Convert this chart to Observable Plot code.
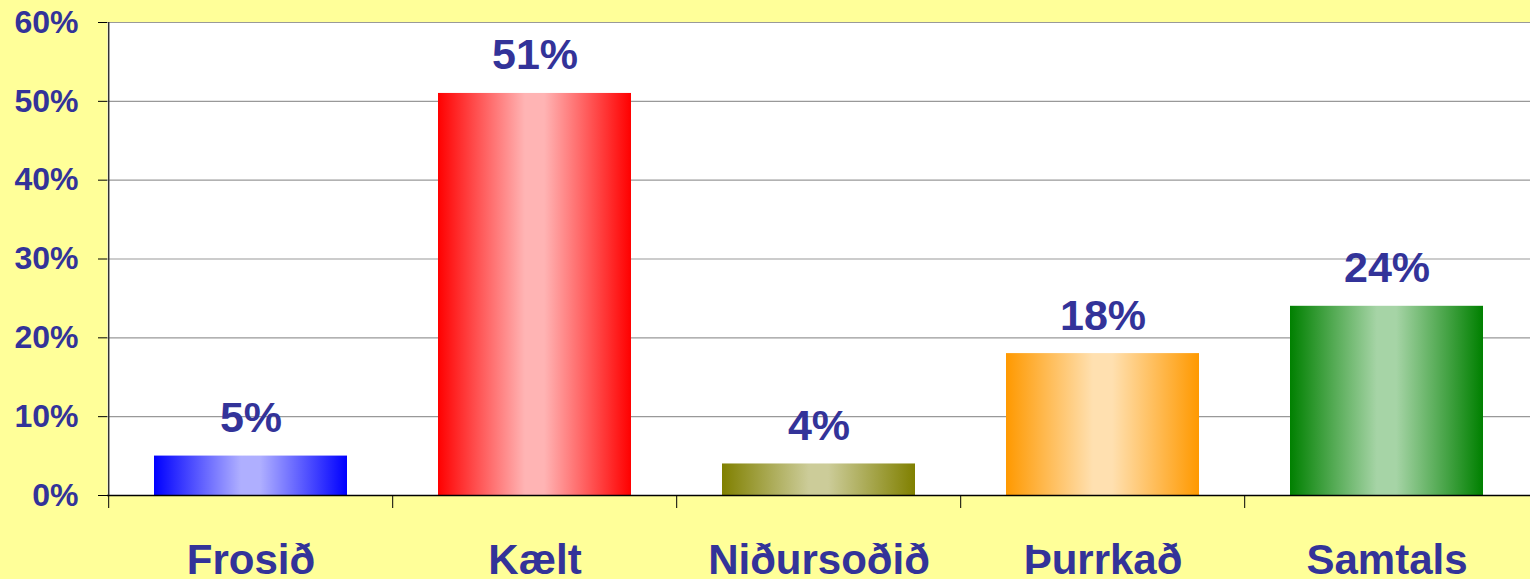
<!DOCTYPE html>
<html>
<head>
<meta charset="utf-8">
<script src="https://cdn.jsdelivr.net/npm/d3@7"></script>
<script src="https://cdn.jsdelivr.net/npm/@observablehq/plot@0.6"></script>
<style>
  html, body { margin: 0; padding: 0; background: #FFFF99; }
  #chart { width: 1530px; height: 579px; }
</style>
</head>
<body>
<div id="chart"></div>
<script>
const categories = ["Frosið", "Kælt", "Niðursoðið", "Þurrkað", "Samtals"];
const values = [5, 51, 4, 18, 24];
const yTicks = [0, 10, 20, 30, 40, 50, 60];
const edgeColors = ["#0000FF", "#FF0000", "#808000", "#FF9900", "#008000"];
const centerColors = ["#AFAFFF", "#FFB4B4", "#CCCC99", "#FFE0B0", "#A6D4A6"];

const data = categories.map((c, i) => ({cat: c, value: values[i]}));

const W = 1530, H = 579, ML = 107, MR = 0, MT = 22, MB = 84;
const step = (W - ML - MR) / categories.length;
const textColor = "#333399";

const chart = Plot.plot({
  width: W,
  height: H,
  marginLeft: ML,
  marginRight: MR,
  marginTop: MT,
  marginBottom: MB,
  style: {background: "#FFFF99", fontFamily: "'Liberation Sans', Arial, sans-serif", overflow: "visible"},
  x: {domain: categories, paddingInner: 0.32, paddingOuter: 0.16, label: null},
  y: {domain: [0, 60], label: null},
  color: {type: "ordinal", domain: categories, range: categories.map((c, i) => `url(#grad${i})`)},
  marks: [
    Plot.frame({fill: "white", stroke: null}),
    Plot.gridY(yTicks, {stroke: "#999", strokeOpacity: 1, strokeWidth: 1.2}),
    Plot.barY(data, {x: "cat", y: "value", fill: "cat"}),
    Plot.ruleY([0], {stroke: "black", strokeWidth: 1.5}),
    Plot.ruleX([categories[0]], {dx: -step / 2, y1: 0, y2: 60, stroke: "#333", strokeWidth: 1.5}),
    Plot.axisY({ticks: yTicks, tickSize: 9, tickPadding: 20, tickFormat: d => d + "%",
      fontSize: 32, fontWeight: "bold", fill: textColor, stroke: "black", label: null}),
    Plot.axisX({tickSize: 13, tickFormat: () => "", dx: -step / 2, stroke: "black", label: null}),
    Plot.axisX({tickSize: 0, tickPadding: 49, fontSize: 42, fontWeight: "bold", fill: textColor, label: null}),
    Plot.text(data, {x: "cat", y: "value", text: d => d.value + "%", dy: -24, lineAnchor: "bottom",
      fontSize: 43, fontWeight: "bold", fill: textColor})
  ]
});

const svg = d3.select(chart);
const defs = svg.insert("defs", ":first-child");
categories.forEach((c, i) => {
  const g = defs.append("linearGradient").attr("id", `grad${i}`)
    .attr("x1", "0%").attr("x2", "100%").attr("y1", "0%").attr("y2", "0%");
  g.append("stop").attr("offset", "0%").attr("stop-color", edgeColors[i]);
  g.append("stop").attr("offset", "45%").attr("stop-color", centerColors[i]);
  g.append("stop").attr("offset", "55%").attr("stop-color", centerColors[i]);
  g.append("stop").attr("offset", "100%").attr("stop-color", edgeColors[i]);
});

document.getElementById("chart").appendChild(chart);
</script>
</body>
</html>
